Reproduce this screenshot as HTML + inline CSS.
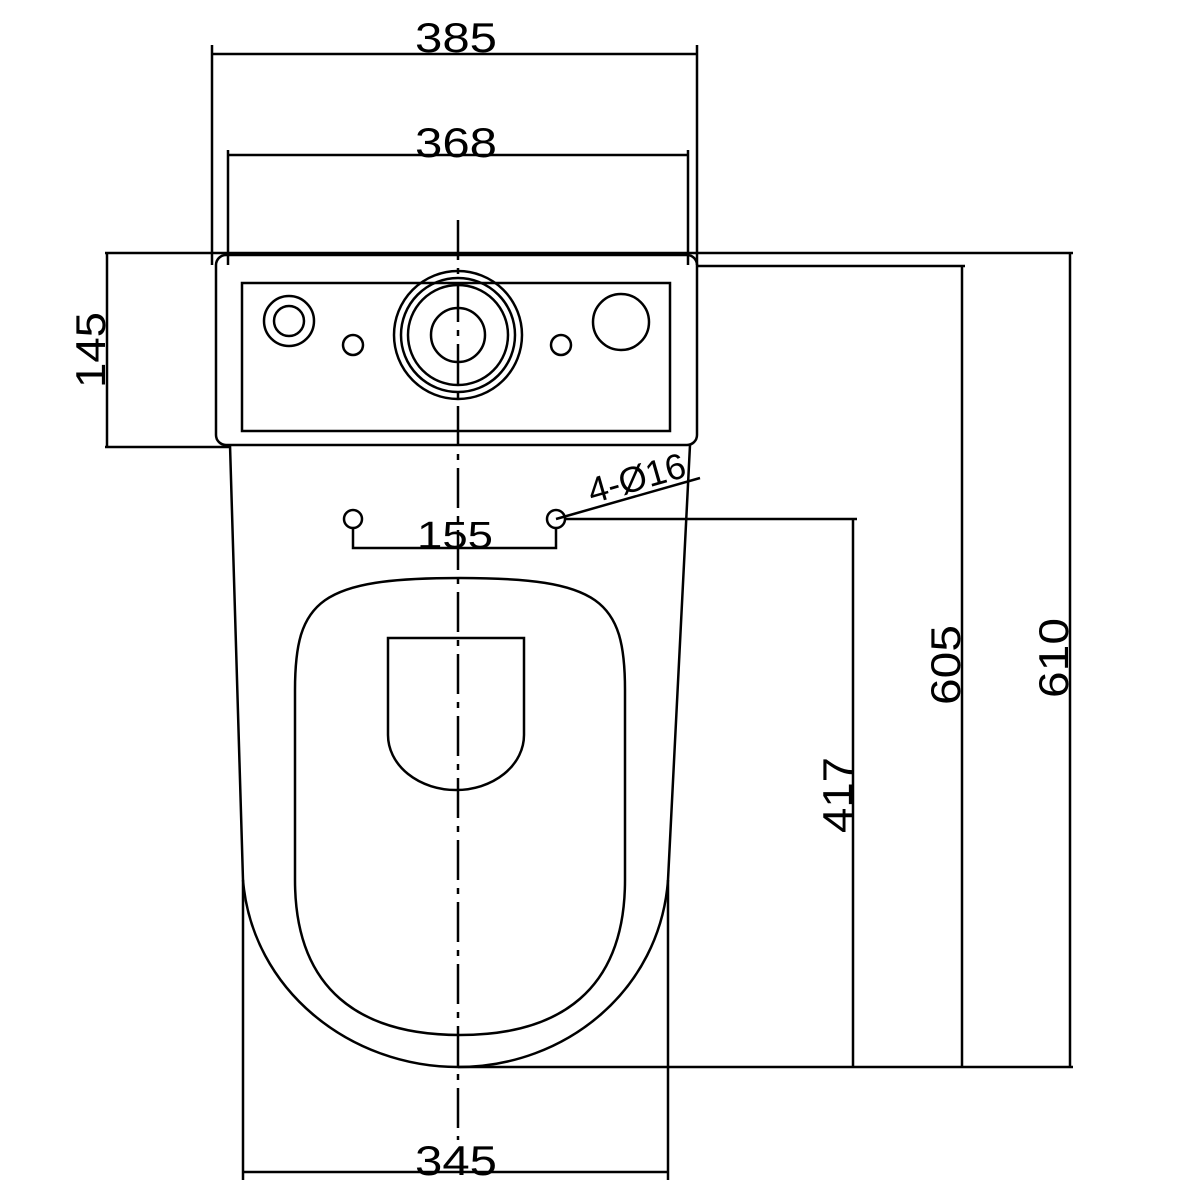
<!DOCTYPE html>
<html><head><meta charset="utf-8"><style>html,body{margin:0;padding:0;background:#fff}svg{display:block}</style></head>
<body>
<svg width="1200" height="1200" viewBox="0 0 1200 1200" xmlns="http://www.w3.org/2000/svg">
<g fill="none" stroke="#000" stroke-width="2.5">
<line x1="212" y1="54" x2="697" y2="54"/>
<line x1="212" y1="45" x2="212" y2="265"/>
<line x1="697" y1="45" x2="697" y2="265"/>
<line x1="228" y1="155" x2="688" y2="155"/>
<line x1="228" y1="150" x2="228" y2="265"/>
<line x1="688" y1="150" x2="688" y2="265"/>
<line x1="105" y1="253" x2="1073" y2="253"/>
<line x1="697" y1="266" x2="965" y2="266"/>
<line x1="458" y1="1067" x2="1073" y2="1067"/>
<line x1="107" y1="253" x2="107" y2="447"/>
<line x1="105" y1="447" x2="230" y2="447"/>
<rect x="216" y="255" width="481" height="190" rx="10"/>
<rect x="242" y="283" width="428" height="148"/>
<circle cx="289" cy="321" r="25"/><circle cx="289" cy="321" r="15"/>
<circle cx="353" cy="345" r="10"/><circle cx="561" cy="345" r="10"/>
<circle cx="458" cy="335" r="64"/><circle cx="458" cy="335" r="57"/><circle cx="458" cy="335" r="50"/><circle cx="458" cy="335" r="27"/>
<circle cx="621" cy="322" r="28"/>
<path d="M230 445 L243 880 C252 990 350 1067 458 1067 C566 1067 660 990 668 880 L690 445"/>
<path d="M460 578 C600 578 625 600 625 690 L625 880 C625 990 560 1035 460 1035 C360 1035 295 990 295 880 L295 690 C295 600 320 578 460 578 Z"/>
<path d="M388 638 L524 638 L524 735 A68 55 0 0 1 388 735 Z"/>
<circle cx="353" cy="519" r="9"/><circle cx="556" cy="519" r="9"/>
<polyline points="353,528 353,548 556,548 556,528"/>
<line x1="556" y1="519" x2="700" y2="478"/>
<line x1="565" y1="519" x2="857" y2="519"/>
<line x1="853" y1="519" x2="853" y2="1067"/>
<line x1="962" y1="266" x2="962" y2="1067"/>
<line x1="1070" y1="253" x2="1070" y2="1067"/>
<line x1="243" y1="880" x2="243" y2="1180"/>
<line x1="668" y1="880" x2="668" y2="1180"/>
<line x1="243" y1="1172" x2="668" y2="1172"/>
<line x1="458" y1="220" x2="458" y2="1140" stroke-dasharray="40,8,6,8"/>
</g>
<g font-family="Liberation Sans, sans-serif" font-size="42" fill="#000" text-anchor="middle">
<text x="456" y="52" textLength="82" lengthAdjust="spacingAndGlyphs">385</text>
<text x="456" y="157" textLength="82" lengthAdjust="spacingAndGlyphs">368</text>
<text x="455" y="548" font-size="38" textLength="76" lengthAdjust="spacingAndGlyphs">155</text>
<text x="456" y="1175" textLength="82" lengthAdjust="spacingAndGlyphs">345</text>
<text transform="translate(105,350) rotate(-90)" textLength="76" lengthAdjust="spacingAndGlyphs">145</text>
<text transform="translate(852,795) rotate(-90)" textLength="76" lengthAdjust="spacingAndGlyphs">417</text>
<text transform="translate(960,665) rotate(-90)" textLength="80" lengthAdjust="spacingAndGlyphs">605</text>
<text transform="translate(1068,658) rotate(-90)" textLength="80" lengthAdjust="spacingAndGlyphs">610</text>
<text transform="translate(640,490) rotate(-16)" font-size="36">4-Ø16</text>
</g>
</svg>
</body></html>
